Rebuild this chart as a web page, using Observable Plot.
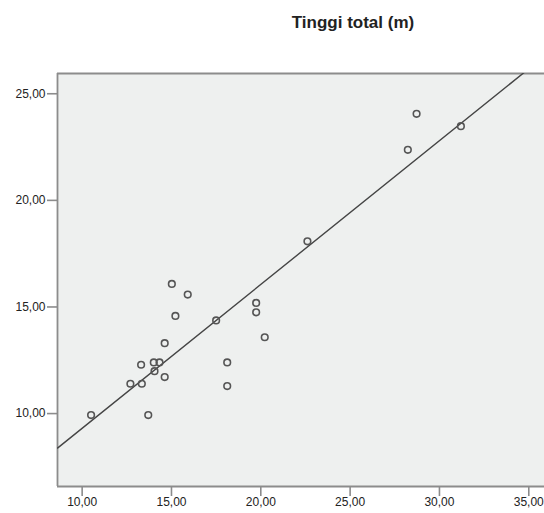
<!DOCTYPE html>
<html>
<head>
<meta charset="utf-8">
<script src="https://cdn.jsdelivr.net/npm/d3@7"></script>
<script src="https://cdn.jsdelivr.net/npm/@observablehq/plot@0.6"></script>
<style>
  html, body { margin: 0; padding: 0; background: #fff; overflow: hidden; }
  #wrap { position: relative; width: 544px; height: 513px; }
  #title { position: absolute; left: 0; top: 12px; width: 706px; text-align: center;
    font: bold 17px "Liberation Sans", Arial, sans-serif; color: #222; line-height: 22px; }
  #chart { position: absolute; left: 0; top: 50px; }
</style>
</head>
<body>
<div id="wrap">
  <div id="title">Tinggi total (m)</div>
  <div id="chart"></div>
</div>
<script>
// X variable values (horizontal axis)
const xValues = [10.5, 13.7, 12.7, 13.34, 13.3, 14.01, 14.33, 14.05, 14.62, 14.62, 15.02, 15.91,
  15.22, 17.5, 19.74, 19.74, 20.22, 18.12, 18.12, 28.72, 28.23, 31.2, 22.61];
// Tinggi total (m)
const tinggiTotal = [9.93, 9.93, 11.4, 11.4, 12.29, 12.4, 12.4, 11.99, 11.71, 13.3, 16.08, 15.58,
  14.58, 14.37, 15.19, 14.75, 13.58, 12.4, 11.29, 24.06, 22.37, 23.48, 18.08];
const xTicks = [10, 15, 20, 25, 30, 35];
const yTicks = [10, 15, 20, 25];
const xDomain = [8.62, 35.88];
const yDomain = [6.58, 25.95];

const data = xValues.map((x, i) => ({x, y: tinggiTotal[i]}));

// least-squares fit line
const mx = d3.mean(xValues), my = d3.mean(tinggiTotal);
const slope = d3.sum(data, d => (d.x - mx) * (d.y - my)) / d3.sum(data, d => (d.x - mx) ** 2);
const intercept = my - slope * mx;
const fit = xDomain.map(x => ({x, y: intercept + slope * x}));

const fmt = d => d.toFixed(2).replace(".", ",");
const axisColor = "#8c8c8c";

const chart = Plot.plot({
  width: 544,
  height: 463,
  marginLeft: 57,
  marginRight: 0,
  marginTop: 23,
  marginBottom: 27,
  style: {fontFamily: "'Liberation Sans', Arial, sans-serif", fontSize: "12px", color: "#222", background: "#fff"},
  x: {domain: xDomain, ticks: xTicks, tickFormat: fmt, label: null},
  y: {domain: yDomain, ticks: yTicks, tickFormat: fmt, label: null},
  marks: [
    Plot.frame({fill: "#eef0ef", stroke: null}),
    Plot.axisX({ticks: xTicks, tickFormat: fmt, tickSize: 10, tickPadding: 1, stroke: axisColor, strokeWidth: 1.6, fill: "#222", fontSize: 12}),
    Plot.axisY({ticks: yTicks, tickFormat: fmt, tickSize: 10, tickPadding: 2, stroke: axisColor, strokeWidth: 1.6, fill: "#222", fontSize: 12}),
    Plot.ruleY([yDomain[1], yDomain[0]], {stroke: axisColor, strokeWidth: 1.8}),
    Plot.ruleX([xDomain[0]], {stroke: axisColor, strokeWidth: 1.8}),
    Plot.line(fit, {x: "x", y: "y", stroke: "#454545", strokeWidth: 1.4, clip: true}),
    Plot.dot(data, {x: "x", y: "y", r: 3.3, stroke: "#555", strokeWidth: 1.6, fill: "none"})
  ]
});
document.getElementById("chart").appendChild(chart);
</script>
</body>
</html>
